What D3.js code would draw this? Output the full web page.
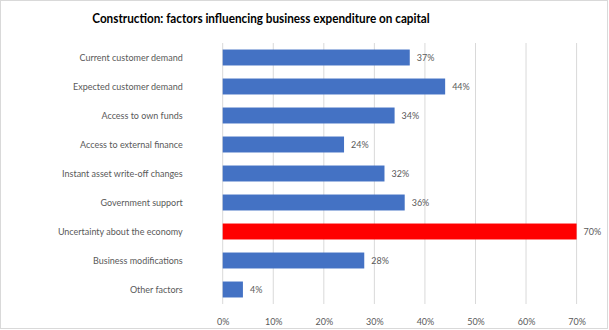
<!DOCTYPE html>
<html><head><meta charset="utf-8">
<script src="https://cdn.jsdelivr.net/npm/d3@7"></script>
<style>body{margin:0;background:#fff}svg{display:block}</style>
</head><body>
<svg id="c" width="609" height="330"></svg>
<script>
const categories = ["Current customer demand","Expected customer demand","Access to own funds","Access to external finance","Instant asset write-off changes","Government support","Uncertainty about the economy","Business modifications","Other factors"];
const values = [37,44,34,24,32,36,70,28,4];
const highlighted = ["Uncertainty about the economy"];
const xTicks = [0,10,20,30,40,50,60,70];
const title = "Construction: factors influencing business expenditure on capital";

const svg = d3.select("#c");
const font = "Lato, sans-serif";
const squeeze = 0.88;

function fitSize(txt, target, weight){
  const t = svg.append("text").attr("font-family",font).attr("font-weight",weight).attr("font-size",100).text(txt);
  const w = t.node().getComputedTextLength(); t.remove();
  return 100*target/w/squeeze;
}
const fs = fitSize("Uncertainty about the economy",125,"normal");
const tfs = fitSize(title,338,"bold");
function narrow(sel){
  sel.each(function(){
    const w = this.getComputedTextLength();
    d3.select(this).attr("textLength",w*squeeze).attr("lengthAdjust","spacingAndGlyphs");
  });
}

svg.append("rect").attr("x",0.5).attr("y",0.5).attr("width",607).attr("height",328)
  .attr("fill","#fff").attr("stroke","#d9d9d9");

const x = d3.scaleLinear().domain([0,70]).range([222.7,576.6]);
const y = d3.scaleBand().domain(categories).range([43,304]).paddingInner(0.45).paddingOuter(0.225);

svg.append("g").selectAll("line").data(xTicks).join("line")
  .attr("x1",d=>x(d)).attr("x2",d=>x(d)).attr("y1",43).attr("y2",304)
  .attr("stroke","#d9d9d9").attr("stroke-width",1);

const data = categories.map((c,i)=>({c,v:values[i]}));
svg.append("g").selectAll("rect").data(data).join("rect")
  .attr("x",x(0)).attr("y",d=>y(d.c)).attr("width",d=>x(d.v)-x(0)).attr("height",y.bandwidth())
  .attr("fill",d=>highlighted.includes(d.c)?"#ff0000":"#4472c4");

svg.append("g").selectAll("text").data(data).join("text")
  .attr("x",d=>x(d.v)+7).attr("y",d=>y(d.c)+y.bandwidth()/2).attr("dy","0.35em")
  .attr("font-family",font).attr("font-size",fs).attr("fill","#595959").text(d=>d.v+"%")
  .call(narrow);

const ax = d3.axisLeft(y).tickSize(0).tickPadding(40);
const gy = svg.append("g").attr("transform",`translate(${x(0)},0)`).call(ax);
gy.select(".domain").remove();
gy.selectAll("text").attr("font-family",font).attr("font-size",fs).attr("fill","#595959").call(narrow);

const axb = d3.axisBottom(x).tickValues(xTicks).tickFormat(d=>d+"%").tickSize(0).tickPadding(11);
const gx = svg.append("g").attr("transform","translate(0,307)").call(axb);
gx.select(".domain").remove();
gx.selectAll("text").attr("font-family",font).attr("font-size",fs).attr("fill","#595959").call(narrow);

svg.append("text").attr("x",261).attr("y",23).attr("text-anchor","middle")
  .attr("font-family",font).attr("font-weight","bold").attr("font-size",tfs).attr("fill","#000").text(title)
  .call(narrow);
</script>
</body></html>
